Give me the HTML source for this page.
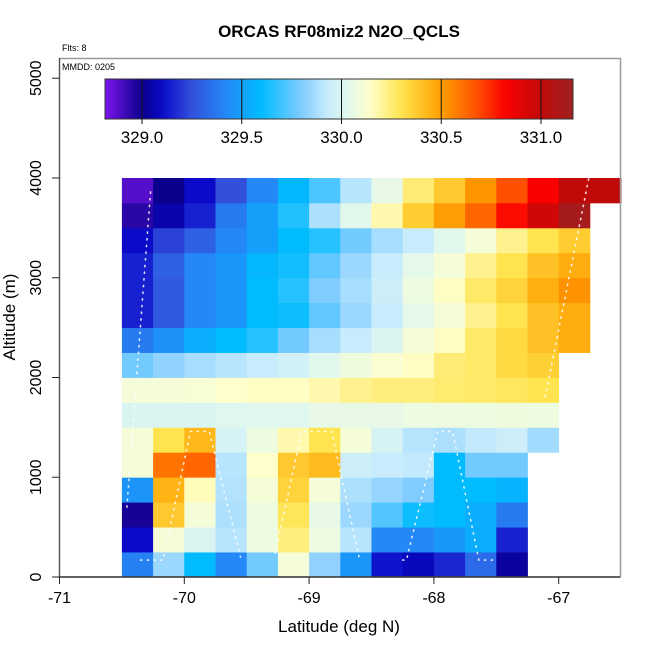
<!DOCTYPE html>
<html><head><meta charset="utf-8"><style>
body{margin:0;background:#fff;}
svg text{font-family:"Liberation Sans",sans-serif;}
</style></head><body>
<svg id="chart" width="650" height="650" xmlns="http://www.w3.org/2000/svg">
<rect width="650" height="650" fill="#fff"/>
<g id="cells"></g>
<g id="track"></g>
<g id="axes"></g>
<g id="cbar"></g>
<text x="339" y="37" text-anchor="middle" font-size="17" font-weight="bold">ORCAS RF08miz2 N2O_QCLS</text>
<text x="62" y="51" font-size="9">Flts: 8</text>
<text x="62" y="70" font-size="9">MMDD: 0205</text>
<text x="339" y="632" text-anchor="middle" font-size="17">Latitude (deg N)</text>
<text transform="translate(15,317) rotate(-90)" text-anchor="middle" font-size="17">Altitude (m)</text>
</svg>
<script>
const latStart = -70.5, latStep = 0.25, altStep = 250;
const row0 = [329.40,329.85,329.60,329.42,329.78,330.10,329.83,329.47,329.12,329.08,329.16,329.33,329.03];
const row1 = [329.10,330.10,330.00,329.90,330.07,330.24,330.07,329.90,329.42,329.42,329.48,329.55,329.15];
const row2 = [328.98,330.38,330.10,329.88,330.07,330.29,330.05,329.85,329.73,329.62,329.60,329.55,329.38];
const row3 = [329.46,330.44,330.16,329.89,330.10,330.35,330.10,329.88,329.84,329.80,329.60,329.60,329.57];
const row4 = [330.10,330.60,330.63,329.90,330.14,330.38,330.42,329.95,329.93,329.92,329.60,329.78,329.78];
const row5 = [330.10,330.30,330.43,329.98,330.07,330.18,330.30,330.10,329.98,329.90,329.88,329.92,329.95,329.86];
const row6 = [330.00,330.00,330.00,330.02,330.02,330.02,330.05,330.05,330.05,330.07,330.07,330.07,330.08,330.07];
const row7 = [330.10,330.10,330.11,330.14,330.15,330.15,330.18,330.22,330.24,330.24,330.26,330.27,330.28,330.30];
const row8 = [329.78,329.83,329.87,329.90,329.93,329.97,330.03,330.08,330.12,330.15,330.25,330.27,330.33,330.36];
const row9 = [329.38,329.45,329.55,329.60,329.66,329.78,329.87,329.93,330.00,330.10,330.15,330.27,330.33,330.40,330.46];
const row10 = [329.15,329.28,329.42,329.47,329.60,329.62,329.75,329.85,329.93,330.04,330.10,330.22,330.30,330.40,330.46];
const row11 = [329.15,329.28,329.42,329.47,329.60,329.66,329.80,329.87,329.95,330.07,330.15,330.27,330.35,330.45,330.53];
const row12 = [329.15,329.30,329.42,329.47,329.58,329.63,329.75,329.85,329.93,330.04,330.10,330.22,330.30,330.40,330.46];
const row13 = [329.10,329.22,329.30,329.42,329.50,329.60,329.66,329.78,329.87,329.93,330.03,330.10,330.22,330.30,330.37];
const row14 = [328.95,329.05,329.15,329.38,329.50,329.65,329.88,330.03,330.18,330.37,330.50,330.63,330.80,330.95,331.12];
const row15 = [328.88,329.00,329.10,329.25,329.42,329.58,329.72,329.90,330.05,330.25,330.38,330.52,330.68,330.82,331.00,331.00];
const rows = [row0,row1,row2,row3,row4,row5,row6,row7,row8,row9,row10,row11,row12,row13,row14,row15];
const xTicks = [-71,-70,-69,-68,-67];
const yTicks = [0,1000,2000,3000,4000,5000];
const cbTicks = ["329.0","329.5","330.0","330.5","331.0"];
const trackLat1 = [-70.46,-70.27];  const trackAlt1 = [700,3870];
const trackLat2 = [-70.35,-70.17,-69.95,-69.8,-69.55]; const trackAlt2 = [170,170,1460,1460,200];
const trackLat3 = [-69.27,-69.06,-68.82,-68.6]; const trackAlt3 = [240,1460,1460,200];
const trackLat4 = [-68.25,-68.22,-67.97,-67.85,-67.64,-67.5]; const trackAlt4 = [170,170,1460,1460,170,170];
const trackLat5 = [-66.76,-67.11]; const trackAlt5 = [3990,1790];

const NS='http://www.w3.org/2000/svg';
const X0=59.5, PXD=124.8, Y0=577, PXM=0.09975;
const xs = v => X0 + (v+71)*PXD;
const ys = v => Y0 - v*PXM;
const stops=[[328.82,[122,20,236]],[328.92,[60,10,180]],[329.0,[10,0,140]],[329.1,[10,10,200]],[329.25,[50,80,220]],[329.42,[36,136,248]],[329.6,[0,188,255]],[329.8,[128,204,255]],[329.93,[200,236,252]],[330.03,[226,248,236]],[330.14,[255,255,204]],[330.3,[255,228,80]],[330.45,[255,176,16]],[330.52,[255,150,0]],[330.68,[255,80,0]],[330.82,[250,0,0]],[331.0,[192,10,10]],[331.15,[160,32,32]]];
function cmap(v){
  if(v<=stops[0][0]) return 'rgb('+stops[0][1]+')';
  for(let i=1;i<stops.length;i++){
    if(v<=stops[i][0]){const a=stops[i-1],b=stops[i],t=(v-a[0])/(b[0]-a[0]);
      const c=a[1].map((x,k)=>Math.round(x+(b[1][k]-x)*t));return 'rgb('+c+')';}
  }
  return 'rgb('+stops[stops.length-1][1]+')';
}
function mk(tag,attrs,parent){const e=document.createElementNS(NS,tag);for(const k in attrs)e.setAttribute(k,attrs[k]);parent.appendChild(e);return e;}
const gC=document.getElementById('cells');
rows.forEach((row,r)=>{row.forEach((v,c)=>{
  const x1=xs(latStart+c*latStep),x2=xs(latStart+(c+1)*latStep),y1=ys((r+1)*altStep),y2=ys(r*altStep);
  const e=mk('rect',{x:x1,y:y1,width:x2-x1+0.4,height:y2-y1+0.4,fill:cmap(v)},gC);
  
  
});});
const gT=document.getElementById('track');
[[trackLat1,trackAlt1],[trackLat2,trackAlt2],[trackLat3,trackAlt3],[trackLat4,trackAlt4],[trackLat5,trackAlt5]].forEach(([la,al])=>{
  const p=mk('polyline',{points:la.map((v,i)=>xs(v)+','+ys(al[i])).join(' '),fill:'none',stroke:'#fff','stroke-width':1.6,'stroke-dasharray':'1.2 5.5','stroke-linecap':'round',opacity:0.85},gT);
  
  
});
const gA=document.getElementById('axes');
const fr=mk('rect',{x:59.5,y:58.5,width:561,height:518.5,fill:'none',stroke:'#999','stroke-width':1.5},gA);


mk('line',{x1:59.5,y1:Y0,x2:620,y2:Y0,stroke:'#222','stroke-width':1.2},gA);
mk('line',{x1:59.5,y1:58,x2:59.5,y2:Y0,stroke:'#555','stroke-width':1.2},gA);
xTicks.forEach(t=>{mk('line',{x1:xs(t),y1:Y0,x2:xs(t),y2:Y0+7,stroke:'#222'},gA);
  const e=mk('text',{x:xs(t),y:603,'text-anchor':'middle','font-size':16},gA);e.textContent=t;
  
  });
yTicks.forEach(t=>{mk('line',{x1:52,y1:ys(t),x2:59.5,y2:ys(t),stroke:'#222'},gA);
  const e=mk('text',{transform:'translate(41,'+ys(t)+') rotate(-90)','text-anchor':'middle','font-size':16},gA);e.textContent=t;
  
  });
const gB=document.getElementById('cbar');
const CB0=105,CB1=573,cbx=v=>142+(v-329)*199.5;
const defs=mk('defs',{},gB);const lg=mk('linearGradient',{id:'cg',x1:0,x2:1,y1:0,y2:0},defs);
for(let i=0;i<=60;i++){const v=328.815+(331.16-328.815)*i/60;mk('stop',{offset:i/60,'stop-color':cmap(v)},lg);}
const bar=mk('rect',{x:CB0,y:79,width:CB1-CB0,height:40,fill:'url(#cg)',stroke:'#333','stroke-width':1},gB);


cbTicks.forEach(t=>{const x=cbx(parseFloat(t));mk('line',{x1:x,y1:79,x2:x,y2:124,stroke:'#111'},gB);
  const e=mk('text',{x:x,y:143,'text-anchor':'middle','font-size':17},gB);e.textContent=t;
  
  });
</script>
</body></html>
